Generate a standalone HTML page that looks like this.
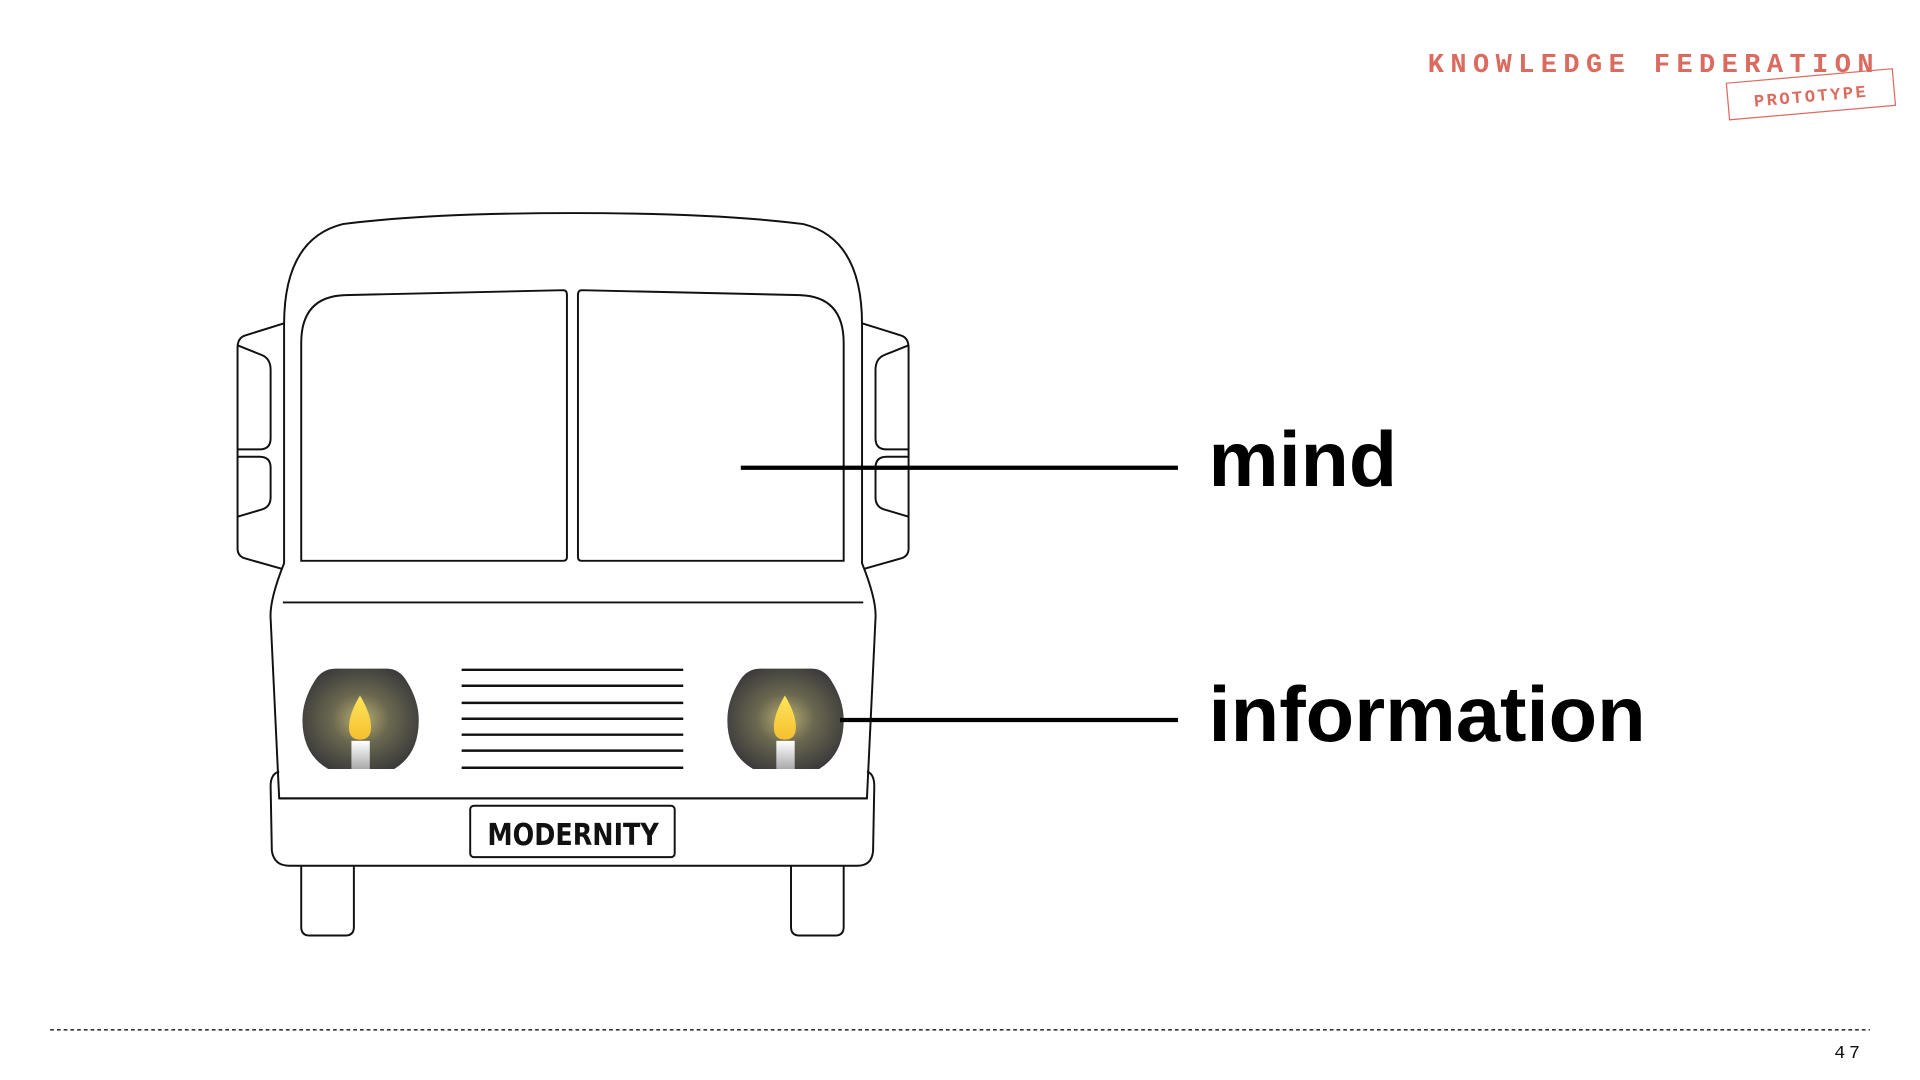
<!DOCTYPE html>
<html><head><meta charset="utf-8"><style>
html,body{margin:0;padding:0;background:#fff;width:1920px;height:1080px;overflow:hidden}
svg{display:block}
</style></head><body>
<svg width="1920" height="1080" viewBox="0 0 1568 882" xmlns="http://www.w3.org/2000/svg">
<defs>
<radialGradient id="hl" cx="50%" cy="50%" r="55%">
<stop offset="0" stop-color="#b8b070"/><stop offset="0.45" stop-color="#6b6850"/><stop offset="1" stop-color="#3c3c3c"/>
</radialGradient>
<linearGradient id="fl" x1="0" y1="0" x2="0" y2="1"><stop offset="0" stop-color="#ffe45a"/><stop offset="1" stop-color="#f5c030"/></linearGradient>
<linearGradient id="cd" x1="0" y1="0" x2="0" y2="1"><stop offset="0" stop-color="#fff"/><stop offset="1" stop-color="#aaa"/></linearGradient>
</defs>
<text x="1166" y="59" font-family="Liberation Mono, monospace" font-weight="bold" font-size="22" textLength="364" lengthAdjust="spacing" fill="#dc6b5f">KNOWLEDGE FEDERATION</text>
<g transform="rotate(-5 1479 78)">
<rect x="1411" y="62" width="136" height="30" fill="none" stroke="#dc6b5f" stroke-width="1"/>
<text x="1479" y="83" text-anchor="middle" font-family="Liberation Mono, monospace" font-weight="bold" font-size="14" letter-spacing="2" fill="#dc6b5f">PROTOTYPE</text>
</g>
<g fill="none" stroke="#111" stroke-width="1.6">
<path d="M232,264 L200,274 Q194,276 194,284 L194,448 Q194,454 200,456 L232,465"/>
<path d="M194,282 L214,290 Q221,293 221,302 L221,358 Q221,367 212,367 L194,367"/>
<path d="M194,373 L212,373 Q221,373 221,382 L221,406 Q221,414 214,416 L194,422"/>
<path d="M704,264 L736,274 Q742,276 742,284 L742,448 Q742,454 736,456 L704,465"/>
<path d="M742,282 L722,290 Q715,293 715,302 L715,358 Q715,367 724,367 L742,367"/>
<path d="M742,373 L724,373 Q715,373 715,382 L715,406 Q715,414 722,416 L742,422"/>
<path d="M232,460 L232,265 Q232,195 280,183 Q350,174 468,174 Q586,174 656,183 Q704,195 704,265 L704,460 Q716,490 715,505 L708,652 L228,652 L221,505 Q220,490 232,460 Z" fill="#fff"/>
<path d="M246,458 L246,280 Q246,242 282,241 L460,237 Q463,237 463,241 L463,455 Q463,458 460,458 Z"/>
<path d="M689,458 L689,280 Q689,242 653,241 L475,237 Q472,237 472,241 L472,455 Q472,458 475,458 Z"/>
<line x1="231" y1="492" x2="705" y2="492"/>
<path d="M228,630 Q221,632 221,642 L222,695 Q224,707 236,707 L700,707 Q712,707 713,695 L714,642 Q714,632 708,630"/>
<line x1="228" y1="652" x2="708" y2="652"/>
<rect x="384" y="658" width="167" height="42" rx="3" fill="#fff"/>
<path d="M246,707 L246,757 Q246,764 253,764 L282,764 Q289,764 289,757 L289,707"/>
<path d="M646,707 L646,757 Q646,764 653,764 L682,764 Q689,764 689,757 L689,707"/>
</g>
<g stroke="#111" stroke-width="2">
<line x1="377" y1="547" x2="558" y2="547"/><line x1="377" y1="560" x2="558" y2="560"/>
<line x1="377" y1="574" x2="558" y2="574"/><line x1="377" y1="587" x2="558" y2="587"/>
<line x1="377" y1="600" x2="558" y2="600"/><line x1="377" y1="613" x2="558" y2="613"/>
<line x1="377" y1="627" x2="558" y2="627"/>
</g>
<text x="398" y="690" font-family="DejaVu Sans Condensed, Liberation Sans Narrow, sans-serif" font-weight="bold" font-size="25" textLength="140" lengthAdjust="spacingAndGlyphs" fill="#111">MODERNITY</text>
<g>
<path d="M274,546 L316,546 Q326,546 332,556 Q342,572 342,588 Q342,616 322,628 L268,628 Q247,616 247,588 Q247,572 257,556 Q263,546 274,546 Z" fill="url(#hl)"/>
<path d="M294,568 Q285,583 285,594 Q285,604 294,604 Q303,604 303,594 Q303,583 294,568 Z" fill="url(#fl)"/>
<rect x="287" y="605" width="15" height="23" fill="url(#cd)"/>
<path d="M621,546 L663,546 Q673,546 679,556 Q689,572 689,588 Q689,616 669,628 L615,628 Q594,616 594,588 Q594,572 604,556 Q610,546 621,546 Z" fill="url(#hl)"/>
<path d="M641,568 Q632,583 632,594 Q632,604 641,604 Q650,604 650,594 Q650,583 641,568 Z" fill="url(#fl)"/>
<rect x="634" y="605" width="15" height="23" fill="url(#cd)"/>
</g>
<line x1="605" y1="382" x2="962" y2="382" stroke="#000" stroke-width="3.5"/>
<line x1="686" y1="588" x2="962" y2="588" stroke="#000" stroke-width="3.5"/>
<text x="987" y="397" font-family="Liberation Sans, sans-serif" font-weight="bold" font-size="64" textLength="154" lengthAdjust="spacingAndGlyphs" fill="#000">mind</text>
<text x="987" y="605" font-family="Liberation Sans, sans-serif" font-weight="bold" font-size="64" textLength="357" lengthAdjust="spacingAndGlyphs" fill="#000">information</text>
<line x1="41" y1="841" x2="1527" y2="841" stroke="#333" stroke-width="1.3" stroke-dasharray="3,2.5"/>
<text x="1522" y="864" text-anchor="end" font-family="Liberation Mono, monospace" font-size="15" letter-spacing="3" fill="#111">47</text>
</svg>
</body></html>
